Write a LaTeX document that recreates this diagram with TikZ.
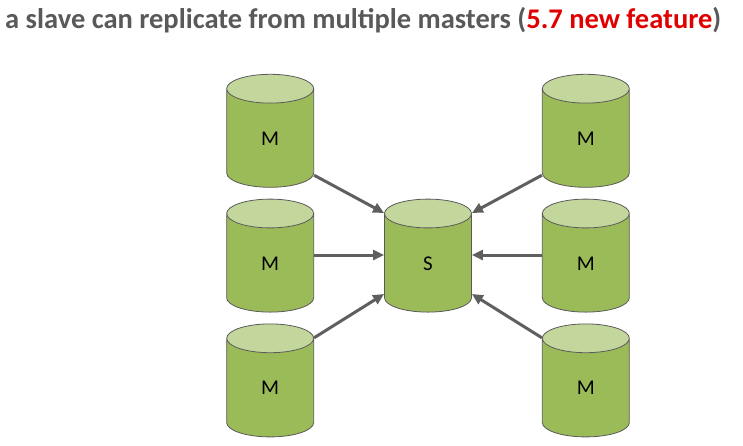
\documentclass[tikz,border=0pt]{standalone}
\usepackage{fontspec}
\setmainfont{Carlito}
\usetikzlibrary{shapes.geometric,positioning,arrows.meta}
\definecolor{txtgray}{HTML}{595959}
\definecolor{newred}{HTML}{E00000}
\definecolor{bodygreen}{HTML}{9BBB59}
\definecolor{topgreen}{HTML}{C3D69B}
\definecolor{rimgray}{HTML}{5A5A5A}
\definecolor{arrowgray}{HTML}{5F5F5F}

\begin{document}
\begin{tikzpicture}[x=1pt, y=1pt, node distance={70pt},
    db/.style={cylinder, shape border rotate=90, aspect=1.6, draw=rimgray, line width=0.8pt,
      minimum width=87pt, minimum height=113pt, inner sep=0pt,
      text width=18pt, align=center, text height=14pt, text depth=0pt,
      cylinder uses custom fill, cylinder body fill=bodygreen, cylinder end fill=topgreen,
      font=\fontsize{21}{21}\selectfont},
    feed/.style={draw=arrowgray, line width=3pt, -{Triangle[length=11pt,width=10pt]}}]
		\useasboundingbox (0,0) rectangle (743,-445);
		\node[anchor=base west, text=txtgray, font=\bfseries\fontsize{28.5}{28.5}\selectfont, inner sep=0pt] (title) at (5,-28)
			{a slave can replicate from multiple masters (\textcolor{newred}{5.7 new feature})};

		\node[db] (s) at (428,-263) {S};
		\node[db] (lm) [left=70pt of s] {M};
		\node[db] (rm) [right=70pt of s] {M};
		\node[db] (lt) [above=11pt of lm] {M};
		\node[db] (lb) [below=11pt of lm] {M};
		\node[db] (rt) [above=11pt of rm] {M};
		\node[db] (rb) [below=11pt of rm] {M};

		\draw[feed] ([yshift=-37pt]lt.east) to ([yshift=50pt]s.west);
		\draw[feed] ([yshift=8pt]lm.east) to ([yshift=8pt]s.west);
		\draw[feed] ([yshift=50pt]lb.east) to ([yshift=-31pt]s.west);
		\draw[feed] ([yshift=-37pt]rt.west) to ([yshift=50pt]s.east);
		\draw[feed] ([yshift=8pt]rm.west) to ([yshift=8pt]s.east);
		\draw[feed] ([yshift=50pt]rb.west) to ([yshift=-31pt]s.east);
	\end{tikzpicture}
\end{document}
